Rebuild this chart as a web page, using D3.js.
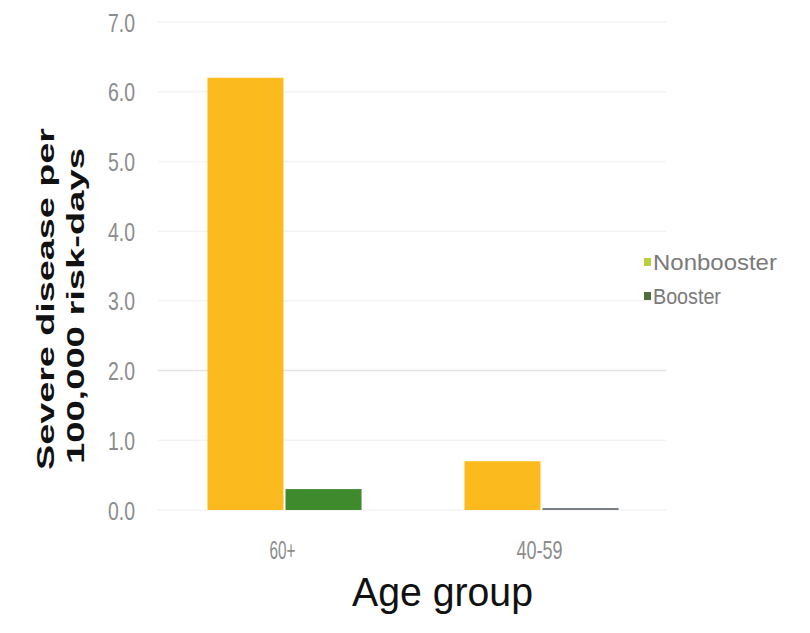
<!DOCTYPE html>
<html>
<head>
    <meta charset="utf-8" />
    <title>Severe disease by age group</title>
    <script src="https://cdn.jsdelivr.net/npm/d3@7"></script>
    <style>
        body { margin: 0; background: #fff; }
        text { font-family: "Liberation Sans", Arial, sans-serif; }
    </style>
</head>
<body>
    <svg width="810" height="633"></svg>
    <script>
        var ageGroups = ["60+", "40-59"];
        var seriesNames = ["Nonbooster", "Booster"];
        var nonbooster = [6.2, 0.7];
        var booster = [0.3, 0.02];
        var yTicks = [0, 1, 2, 3, 4, 5, 6, 7];

        var svg = d3.select("svg");

        var colors = { Nonbooster: "#fbbb1e", Booster: "#3e8a2c" };
        var legendColors = { Nonbooster: "#b9d23c", Booster: "#4d6e3e" };

        // squeeze or stretch a text horizontally (in its own frame) to a given width
        function fitText(sel, x, y, width, rot) {
            sel.attr("x", 0).attr("y", 0);
            var len = sel.node().getComputedTextLength();
            sel.attr("transform", "translate(" + x + "," + y + ")" + (rot ? " rotate(" + rot + ")" : "") +
                " scale(" + (width / len) + ",1)");
        }

        var rows = ageGroups.map(function (g, i) {
            return { group: g, values: [
                { key: "Nonbooster", value: nonbooster[i] },
                { key: "Booster", value: booster[i] }
            ] };
        });

        var x0 = d3.scaleBand().domain(ageGroups).range([155, 669]);
        var x1 = d3.scaleBand().domain(seriesNames).range([0, x0.bandwidth()]).paddingOuter(0.69);
        var y = d3.scaleLinear().domain([0, 7]).range([510, 22]);

        // gridlines
        svg.append("g")
            .selectAll("line")
            .data(yTicks)
            .enter()
            .append("line")
            .attr("x1", 158)
            .attr("x2", 666)
            .attr("y1", function (d) { return y(d); })
            .attr("y2", function (d) { return y(d); })
            .attr("stroke", function (d) { return d === 2 ? "#e4e4e4" : "#f3f3f3"; })
            .attr("stroke-width", 1.5);

        // y tick labels (narrow, tall)
        svg.append("g")
            .selectAll("text")
            .data(yTicks)
            .enter()
            .append("text")
            .style("font-size", "26px")
            .attr("fill", "#8c8c8c")
            .text(function (d) { return d3.format(".1f")(d); })
            .each(function (d) { fitText(d3.select(this), 108, y(d) + 9.5, 27); });

        // bars
        var groups = svg.append("g")
            .selectAll("g")
            .data(rows)
            .enter()
            .append("g")
            .attr("transform", function (d) { return "translate(" + x0(d.group) + ",0)"; });

        groups.selectAll("rect")
            .data(function (d) { return d.values; })
            .enter()
            .append("rect")
            .attr("x", function (d) { return x1(d.key) + (d.key === "Booster" ? 2 : 0); })
            .attr("width", x1.bandwidth())
            .attr("y", function (d) { return Math.min(y(d.value), y(0) - 2); })
            .attr("height", function (d) { return Math.max(y(0) - y(d.value), 2); })
            .attr("fill", function (d) { return d.value < 0.1 ? "#7a7f86" : colors[d.key]; });

        // x tick labels
        var xLabelWidth = { "60+": 26, "40-59": 46 };
        svg.append("g")
            .selectAll("text")
            .data(ageGroups)
            .enter()
            .append("text")
            .style("font-size", "25px")
            .attr("fill", "#8c8c8c")
            .text(function (d) { return d; })
            .each(function (d) {
                fitText(d3.select(this), x0(d) + x0.bandwidth() / 2 - 1 - xLabelWidth[d] / 2, 559, xLabelWidth[d]);
            });

        // axis titles
        svg.append("text")
            .style("font-size", "41px")
            .attr("fill", "#111")
            .text("Age group")
            .call(fitText, 352, 606, 181);

        svg.append("text")
            .style("font-size", "23px")
            .style("font-weight", "bold")
            .attr("fill", "#111")
            .text("Severe disease per")
            .call(fitText, 54, 470, 342, -90);
        svg.append("text")
            .style("font-size", "23px")
            .style("font-weight", "bold")
            .attr("fill", "#111")
            .text("100,000 risk-days")
            .call(fitText, 84, 464, 316, -90);

        // legend
        var legend = svg.append("g")
            .selectAll("g")
            .data(seriesNames)
            .enter()
            .append("g")
            .attr("transform", function (d, i) { return "translate(644," + (262 + i * 34) + ")"; });

        legend.append("rect")
            .attr("x", 0)
            .attr("y", -4)
            .attr("width", 7)
            .attr("height", 8)
            .attr("fill", function (d) { return legendColors[d]; });

        legend.append("text")
            .style("font-size", "22px")
            .attr("fill", "#7a7a7a")
            .text(function (d) { return d; })
            .each(function (d) { fitText(d3.select(this), 9, 8, d === "Nonbooster" ? 124 : 68); });
    </script>
</body>
</html>
